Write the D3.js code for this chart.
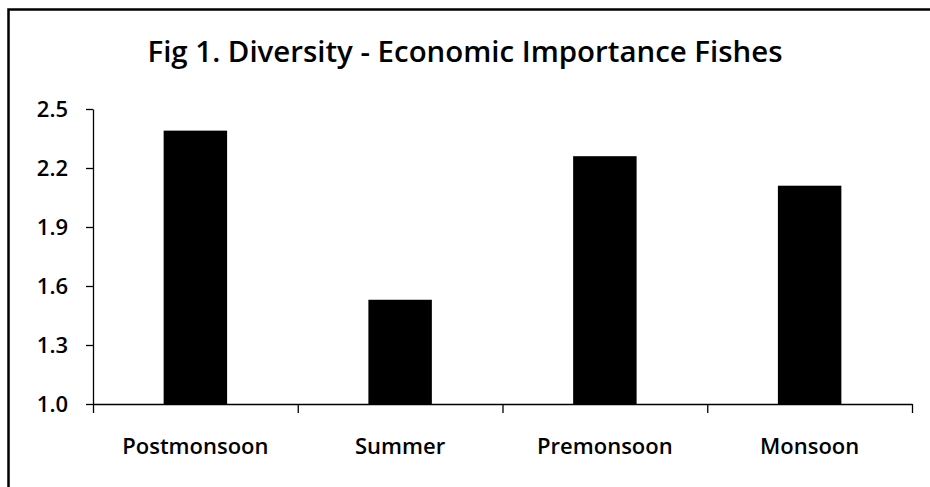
<!DOCTYPE html>
<html>
<head>
<meta charset="utf-8">
<script src="https://cdn.jsdelivr.net/npm/d3@7"></script>
<style>
  body { margin: 0; background: #fff; }
  text { font-family: 'Open Sans', sans-serif; font-weight: 600; fill: #000; }
</style>
</head>
<body>
<div class="box"></div>
<script>
// data
const seasons = ['Postmonsoon', 'Summer', 'Premonsoon', 'Monsoon'];
const diversity = [2.39, 1.53, 2.26, 2.11];
const yTicks = [1.0, 1.3, 1.6, 1.9, 2.2, 2.5];
const title = 'Fig 1. Diversity - Economic Importance Fishes';

const width = 930, height = 487;
const margin = {top: 109, right: 18, bottom: 83, left: 93};
const graphWidth = width - margin.left - margin.right;
const graphHeight = height - margin.top - margin.bottom;

const svg = d3.select('.box')
              .append('svg')
              .attr('width', width)
              .attr('height', height);

// frame (runs off right and bottom edges)
svg.append('path')
   .attr('d', `M8.5,${height} L8.5,9.5 L${width},9.5`)
   .attr('fill', 'none')
   .attr('stroke', '#000')
   .attr('stroke-width', 2.5);

svg.append('text')
   .attr('x', width / 2)
   .attr('y', 62)
   .attr('text-anchor', 'middle')
   .style('font-size', '28px')
   .attr('textLength', 635)
   .attr('lengthAdjust', 'spacingAndGlyphs')
   .text(title);

const graph = svg.append('g')
                 .attr('transform', `translate(${margin.left}, ${margin.top})`);

const y = d3.scaleLinear()
            .domain([1.0, 2.5])
            .range([graphHeight, 0]);

const x = d3.scaleBand()
            .domain(seasons)
            .range([0, graphWidth])
            .paddingInner(0.69)
            .paddingOuter(0.345);

const xEdges = d3.scaleLinear()
                 .domain([0, seasons.length])
                 .range([0, graphWidth]);

graph.selectAll('rect')
     .data(diversity)
     .enter()
     .append('rect')
     .attr('x', (d, i) => x(seasons[i]))
     .attr('y', d => y(d))
     .attr('width', x.bandwidth())
     .attr('height', d => graphHeight - y(d))
     .attr('fill', '#000');

// y axis
const groupeY = graph.append('g')
  .call(d3.axisLeft(y)
          .tickValues(yTicks)
          .tickSize(7)
          .tickSizeOuter(0)
          .tickPadding(18)
          .tickFormat(d3.format('.1f')));
groupeY.selectAll('text').style('font-size', '22px');

// x axis: boundary ticks
graph.append('g')
     .attr('transform', `translate(0, ${graphHeight})`)
     .call(d3.axisBottom(xEdges)
             .tickValues(d3.range(seasons.length + 1))
             .tickSize(9)
             .tickSizeOuter(0)
             .tickFormat(''));

// x axis: category labels
const groupeX = graph.append('g')
  .attr('transform', `translate(0, ${graphHeight})`)
  .call(d3.axisBottom(x).tickSize(0).tickPadding(34));
groupeX.select('.domain').remove();
groupeX.selectAll('text').style('font-size', '22px');

svg.selectAll('.domain, .tick line').attr('stroke', '#000').attr('stroke-width', 1.3);
</script>
</body>
</html>
